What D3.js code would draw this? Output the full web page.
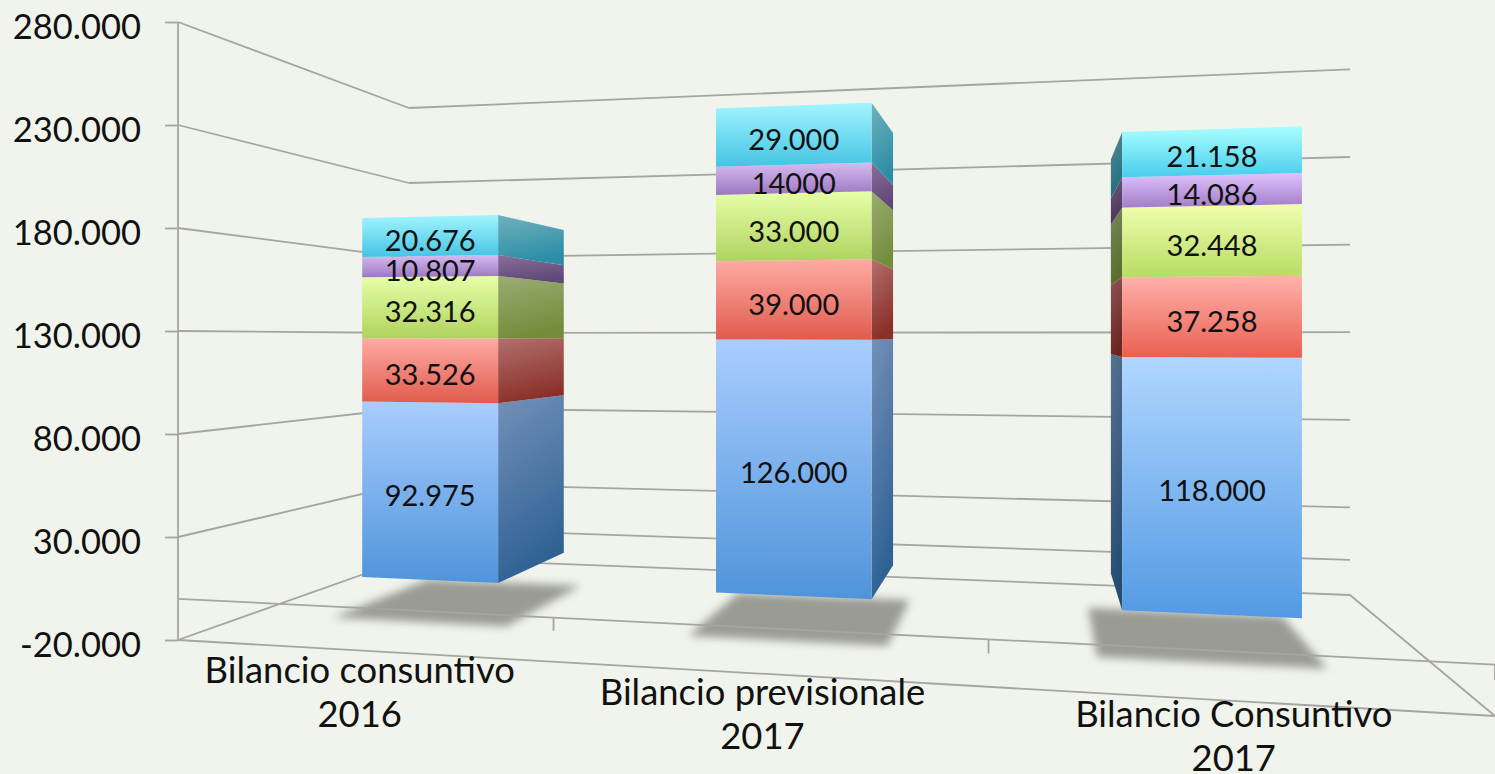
<!DOCTYPE html>
<html>
<head>
<meta charset="utf-8">
<script src="https://cdn.jsdelivr.net/npm/d3@7"></script>
<style>
  html, body { margin: 0; padding: 0; background: #f1f4ec; overflow: hidden; }
  text { font-family: Lato, "Noto Sans", sans-serif; fill: #111; }
</style>
</head>
<body>
<div id="chart"></div>
<script>
// Data
const categories = [['Bilancio consuntivo', '2016'], ['Bilancio previsionale', '2017'], ['Bilancio Consuntivo', '2017']];
const yTicks = [-20000, 30000, 80000, 130000, 180000, 230000, 280000];
const seriesKeys = ['blue', 'red', 'green', 'purple', 'cyan'];
const blueValues = [92975, 126000, 118000];
const redValues = [33526, 39000, 37258];
const greenValues = [32316, 33000, 32448];
const purpleValues = [10807, 14000, 14086];
const cyanValues = [20676, 29000, 21158];
const plainLabels = [14000]; // this one is printed without the thousands dot

// Colours: [front top, front bottom, side top, side bottom]
const palette = {
    blue: ['#a9cdff', '#4f94da', '#7391b9', '#2f6194'],
    red: ['#ffaba4', '#e05b4d', '#b1706d', '#8b3029'],
    green: ['#e6ffa8', '#afd35f', '#9bac72', '#748d3c'],
    purple: ['#d6bbf2', '#9c78c0', '#8a7199', '#5f4777'],
    cyan: ['#a2f5ff', '#45c4e4', '#70b1bd', '#2a8ea6']
};

const width = 1495, height = 774;

// Floor corners on screen (the box the chart stands in)
const FL = [178, 640], FR = [1495, 716], BR = [1350, 595], BL = [409, 558];

// Homography of the unit floor square: u goes left to right, w goes front to back
const sx = FL[0] - FR[0] + BR[0] - BL[0], sy = FL[1] - FR[1] + BR[1] - BL[1];
const dx1 = FR[0] - BR[0], dx2 = BL[0] - BR[0], dy1 = FR[1] - BR[1], dy2 = BL[1] - BR[1];
const det = dx1 * dy2 - dx2 * dy1;
const pg = (sx * dy2 - dx2 * sy) / det;
const ph = (dx1 * sy - sx * dy1) / det;
const ax = FR[0] * (1 + pg) - FL[0], bx = BL[0] * (1 + ph) - FL[0];
const ay = FR[1] * (1 + pg) - FL[1], by = BL[1] * (1 + ph) - FL[1];

// Vertical shrink with depth: 103px per 50k in front, 75 back left, 87.6 back right
const kw = 103 / 75 - 1, ku = 103 / 87.6 - 103 / 75;

// Scales
const yScale = d3.scaleLinear().domain([-20000, 280000]).range([640, 22]);
const xBand = d3.scaleBand().domain(d3.range(categories.length)).range([0.0015, 1.0035])
    .paddingInner(0.6).paddingOuter(0.3);
const depth = d3.scaleLinear().domain([0, 1]).range([0.3, 0.7]);
const catLabelY = d3.scaleLinear().domain([0, categories.length - 1]).range([683, 727]);

function project(u, w, v) {
    const d = 1 + pg * u + ph * w;
    const x = (ax * u + bx * w + FL[0]) / d;
    const floorY = (ay * u + by * w + FL[1]) / d;
    const lift = (yScale(-20000) - yScale(v)) / (1 + ku * u + kw * w);
    return [x, floorY - lift];
}

const line = d3.line();
const closed = d3.line().curve(d3.curveLinearClosed);
const fmt = d3.formatLocale({ decimal: ',', thousands: '.', grouping: [3], currency: ['', ''], minus: '-' }).format(',d');

// Stack the series
const table = categories.map((c, i) => ({
    i,
    blue: blueValues[i], red: redValues[i], green: greenValues[i], purple: purpleValues[i], cyan: cyanValues[i]
}));
const stacked = d3.stack().keys(seriesKeys)(table);

const svg = d3.select('#chart').append('svg')
    .attr('width', width)
    .attr('height', height)
    .style('display', 'block');

const defs = svg.append('defs');
defs.append('filter').attr('id', 'blur')
    .attr('x', '-20%').attr('y', '-30%').attr('width', '140%').attr('height', '160%')
    .append('feGaussianBlur').attr('stdDeviation', 4.5);

function addGradient(id, top, bottom, x2) {
    const g = defs.append('linearGradient').attr('id', id)
        .attr('x1', 0).attr('y1', 0).attr('x2', x2).attr('y2', 1);
    g.append('stop').attr('offset', 0).attr('stop-color', top);
    g.append('stop').attr('offset', 1).attr('stop-color', bottom);
}

// Shadows on the floor
svg.append('g').selectAll('path')
    .data(table)
    .join('path')
    .attr('d', d => {
        const u0 = xBand(d.i) - 0.02, u1 = u0 + xBand.bandwidth() + 0.035;
        const w0 = depth(0) - 0.04, w1 = depth(1) + 0.02;
        return closed([project(u0, w0, -20000), project(u1, w0, -20000), project(u1, w1, -20000), project(u0, w1, -20000)]);
    })
    .attr('fill', '#9a9c94')
    .attr('filter', 'url(#blur)');

// Walls and floor
const frame = svg.append('g')
    .attr('fill', 'none')
    .attr('stroke', '#a5a5a3')
    .attr('stroke-width', 1.8);

frame.selectAll('.back').data([...yTicks, 0]).join('path')
    .attr('class', 'back')
    .attr('d', v => line([project(0, 1, v), project(1, 1, v)]));

frame.selectAll('.side').data(yTicks).join('path')
    .attr('class', 'side')
    .attr('d', v => line([project(0, 0, v), project(0, 1, v)]));

frame.append('path').attr('d', line([project(0, 0, -20000), project(1, 0, -20000)]));
frame.append('path').attr('d', line([project(0, 0, 0), project(1, 0, 0)]));
frame.append('path').attr('d', line([project(1, 1, -20000), project(1, 0, -20000)]));

// Ticks hanging from the zero line, between the categories
const step = xBand.step();
const catTicks = [xBand(1) - xBand.paddingInner() * step / 2, xBand(2) - xBand.paddingInner() * step / 2, 1];
frame.selectAll('.cat-tick').data(catTicks).join('path')
    .attr('class', 'cat-tick')
    .attr('d', u => line([project(u, 0, 0), project(u, 0, -6000)]));

// Bars
const bars = svg.append('g');
table.forEach((d, i) => {
    const u0 = xBand(i), u1 = u0 + xBand.bandwidth();
    const w0 = depth(0), w1 = depth(1);
    // only the side that the viewer can see: left of the vanishing point show the right one
    const rightVisible = project(u1, w1, 0)[0] > project(u1, w0, 0)[0];
    const su = rightVisible ? u1 : u0;

    stacked.forEach(layer => {
        const key = layer.key;
        const [v0, v1] = layer[i];
        const c = palette[key];
        const darken = rightVisible ? 0 : 0.7;
        addGradient(`side-${i}-${key}`, d3.color(c[2]).darker(darken), d3.color(c[3]).darker(darken), 0.25);
        const tint = i === 2 ? 0.12 : 0;
        addGradient(`front-${i}-${key}`, d3.color(c[0]).brighter(tint), d3.color(c[1]).brighter(tint), 0);

        bars.append('path')
            .attr('d', closed([project(su, w0, v1), project(su, w1, v1), project(su, w1, v0), project(su, w0, v0)]))
            .attr('fill', `url(#side-${i}-${key})`);
        bars.append('path')
            .attr('d', closed([project(u0, w0, v1), project(u1, w0, v1), project(u1, w0, v0), project(u0, w0, v0)]))
            .attr('fill', `url(#front-${i}-${key})`);
    });
});

// Value labels on the front faces
const labels = svg.append('g').attr('text-anchor', 'middle').attr('font-size', 29);
table.forEach((d, i) => {
    stacked.forEach(layer => {
        const [v0, v1] = layer[i];
        const value = v1 - v0;
        const [lx0, ly0] = project(xBand(i), depth(0), (v0 + v1) / 2);
        const [lx1, ly1] = project(xBand(i) + xBand.bandwidth(), depth(0), (v0 + v1) / 2);
        labels.append('text')
            .attr('x', (lx0 + lx1) / 2)
            .attr('y', (ly0 + ly1) / 2 + 15)
            .text(plainLabels.includes(value) ? String(value) : fmt(value));
    });
});

// Value axis on the front left edge
const axis = svg.append('g')
    .attr('transform', `translate(${FL[0]},0)`)
    .call(d3.axisLeft(yScale).tickValues(yTicks).tickFormat(fmt).tickSize(13).tickPadding(24));
axis.selectAll('path, line').attr('stroke', '#a5a5a3').attr('stroke-width', 1.8);
axis.select('.domain').attr('d', `M0,${yScale(280000)}V${yScale(-20000)}`);
axis.selectAll('text').attr('font-size', 34.5).attr('font-family', null).attr('dy', '0.48em');

// Category labels under the front floor edge
const catLabels = svg.append('g').attr('text-anchor', 'middle').attr('font-size', 36.4);
categories.forEach((lines, i) => {
    const [lx] = project(xBand(i) + xBand.bandwidth() / 2, 0, -20000);
    lines.forEach((t, j) => {
        catLabels.append('text')
            .attr('x', lx)
            .attr('y', catLabelY(i) + j * 43.5)
            .text(t);
    });
});
</script>
</body>
</html>
